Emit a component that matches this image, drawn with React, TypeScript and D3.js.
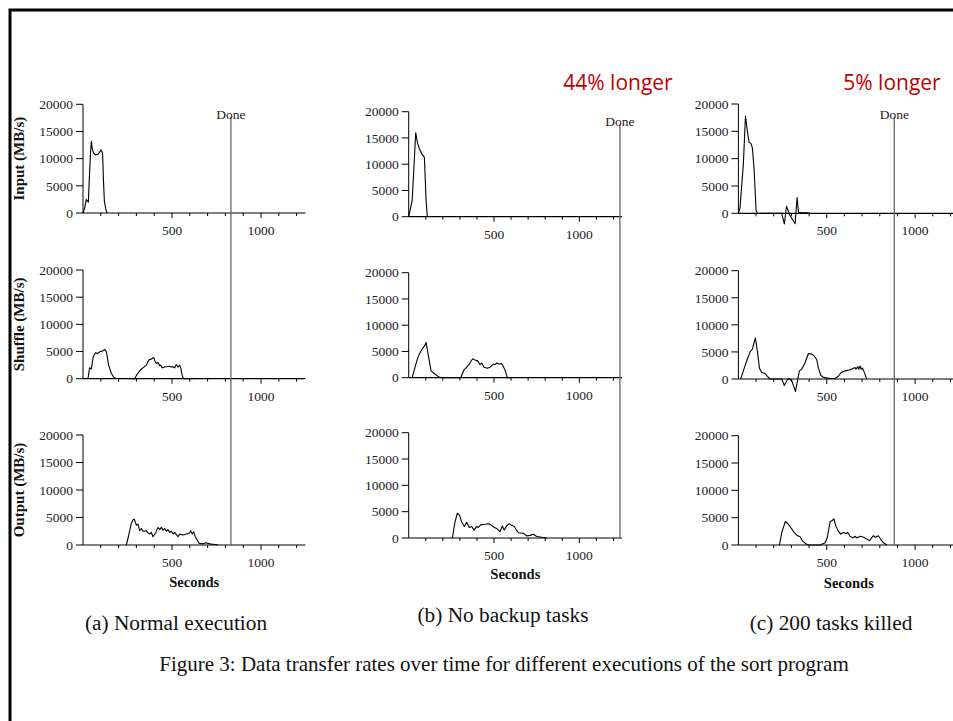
import React from "react";
import * as d3 from "d3";

type Pt = [number, number];

// ---- data (seconds, MB/s) ----
const normalInput: Pt[] = [[0,0],[10,1000],[18,2500],[25,2200],[30,2000],[35,6000],[42,11000],[47,13200],[52,11800],[60,11000],[70,10700],[85,10800],[95,11300],[102,11600],[110,11000],[115,6000],[120,2200],[128,700],[135,0]];
const normalShuffle: Pt[] = [[28,0],[37,2000],[47,1800],[56,3800],[65,4500],[72,4800],[79,4600],[97,5000],[110,5100],[122,5400],[131,5000],[144,2500],[159,1000],[170,400],[178,150],[187,50],[234,50],[290,0],[300,600],[309,1000],[322,1600],[337,2000],[356,2500],[371,3500],[384,3600],[397,3900],[405,3200],[412,2800],[420,3000],[431,2400],[436,2500],[446,2000],[458,2150],[468,2200],[487,2300],[496,2150],[506,2200],[515,2000],[524,2600],[534,2100],[543,2500],[549,2000],[558,500],[566,0],[674,50]];
const normalOutput: Pt[] = [[243,0],[255,1500],[270,3800],[281,4600],[288,4700],[300,3600],[309,3800],[318,2600],[328,3000],[337,2500],[356,2600],[365,2200],[375,2000],[384,2300],[393,1500],[408,2200],[421,3200],[431,2800],[440,3200],[449,2700],[459,3000],[468,2500],[477,2800],[487,2300],[496,2500],[506,2000],[515,2300],[534,1500],[543,2000],[562,1800],[581,2000],[600,2200],[605,2600],[614,2000],[622,2400],[631,1500],[640,1000],[652,300],[674,200],[689,400],[712,200],[730,150],[753,50],[760,0]];

const nobackupInput: Pt[] = [[0,0],[20,3000],[30,9000],[41,16000],[52,14000],[62,13000],[76,12000],[92,11300],[102,3000],[109,0]];
const nobackupShuffle: Pt[] = [[20,0],[37,2000],[50,3500],[62,4500],[82,5600],[95,6200],[102,6700],[111,5000],[131,1300],[150,800],[174,200],[193,0],[305,0],[324,1500],[340,2000],[355,2600],[375,3600],[393,3300],[403,3200],[418,2500],[428,2800],[441,2000],[461,1800],[477,2000],[496,2600],[505,2500],[516,2800],[530,2600],[545,2700],[564,1500],[578,0],[600,0]];
const nobackupOutput: Pt[] = [[256,0],[271,3000],[285,4700],[297,4400],[311,3000],[326,2200],[340,3000],[355,2000],[369,2200],[383,1500],[398,2200],[408,2000],[422,2500],[447,2600],[467,2700],[482,2500],[502,2000],[516,1800],[535,1200],[549,2300],[559,1500],[574,2300],[588,2700],[604,2400],[619,2200],[629,1600],[643,1000],[672,900],[691,400],[711,500],[730,700],[750,300],[770,200],[799,50],[809,0]];

const killedInput: Pt[] = [[0,0],[9,1000],[28,9000],[40,17800],[51,15000],[60,13000],[70,12800],[79,12000],[89,8000],[100,500],[108,0],[245,0],[260,-1950],[272,1300],[292,-400],[321,-1900],[332,2900],[340,200],[358,100],[387,100],[406,0]];
const killedShuffle: Pt[] = [[13,0],[28,1500],[43,3000],[66,5000],[79,5500],[96,7600],[108,5000],[119,2000],[132,1200],[151,1000],[164,500],[179,0],[245,0],[260,-1200],[274,-300],[285,100],[302,-300],[323,-2300],[345,1500],[358,1800],[377,3000],[396,4700],[415,4600],[428,4300],[443,3600],[453,2000],[466,700],[481,300],[519,100],[547,100],[566,500],[581,1200],[604,1500],[632,1700],[651,2000],[660,2100],[666,1800],[675,2300],[681,1800],[689,2400],[695,1800],[702,2000],[708,1600],[717,800],[726,0]];
const killedOutput: Pt[] = [[232,0],[247,2500],[266,4300],[283,3800],[296,3200],[315,2300],[330,1800],[349,1500],[364,700],[387,100],[396,0],[462,0],[491,400],[504,1500],[519,4300],[532,4500],[540,4800],[551,3500],[566,2500],[579,2000],[594,2300],[609,2100],[619,2300],[632,1600],[647,1300],[660,1600],[670,1300],[689,1600],[708,1400],[726,1100],[742,800],[764,1700],[775,1400],[792,1700],[806,1000],[821,400],[840,0]];

const doneTimes = [831, 1238, 882];
const yTicks = [0, 5000, 10000, 15000, 20000];
const xMajorTicks = [500, 1000];
const xMinorTicks = [100, 200, 300, 400, 600, 700, 800, 900, 1100, 1200];
const rowTitles = ["Input (MB/s)", "Shuffle (MB/s)", "Output (MB/s)"];
const captions = ["(a) Normal execution", "(b) No backup tasks", "(c) 200 tasks killed"];
const notes = ["", "44% longer", "5% longer"];
const series: Pt[][][] = [
  [normalInput, normalShuffle, normalOutput],
  [nobackupInput, nobackupShuffle, nobackupOutput],
  [killedInput, killedShuffle, killedOutput],
];

// ---- layout ----
const COLS = [
  { x0: 83, x1: 305.5, rows: [[104.3, 213], [270, 378.7], [435, 545]], doneTop: 117, doneLabelY: 119, secondsY: 587, capX: 176, capY: 630, noteX: 0 },
  { x0: 408.7, x1: 622, rows: [[111.7, 216.7], [272.7, 377.7], [432.7, 538]], doneTop: 124, doneLabelY: 126, secondsY: 579, capX: 503, capY: 622, noteX: 618 },
  { x0: 738.4, x1: 959.3, rows: [[104, 213.3], [270.7, 379], [435.7, 545]], doneTop: 117, doneLabelY: 119, secondsY: 588, capX: 831, capY: 630, noteX: 892 },
];

const SERIF = "'Liberation Serif', 'DejaVu Serif', serif";

function Panel({ col, row }: { col: number; row: number }) {
  const c = COLS[col];
  const [top, bottom] = c.rows[row];
  const x = d3.scaleLinear().domain([0, 1250]).range([c.x0, c.x1]);
  const y = d3.scaleLinear().domain([0, 20000]).range([bottom, top]);
  const line = d3.line<Pt>().x((d) => x(d[0])).y((d) => y(d[1])).curve(d3.curveLinear);
  const data = series[col][row];
  return (
    <g>
      <line x1={x(0)} x2={x(0)} y1={y(0)} y2={y(20000)} stroke="#000" strokeWidth={1} />
      <line x1={x(0)} x2={x(1250)} y1={y(0)} y2={y(0)} stroke="#000" strokeWidth={1.2} />
      {yTicks.map((t) => (
        <g key={"y" + t}>
          <line x1={x(0) - 7} x2={x(0)} y1={y(t)} y2={y(t)} stroke="#000" strokeWidth={1} />
          <text x={x(0) - 10} y={y(t)} dy="0.35em" textAnchor="end" fontFamily={SERIF} fontSize={13.5} fill="#222">
            {t}
          </text>
        </g>
      ))}
      {xMinorTicks.map((t) => (
        <line key={"m" + t} x1={x(t)} x2={x(t)} y1={y(0)} y2={y(0) + 3} stroke="#000" strokeWidth={1} />
      ))}
      {xMajorTicks.map((t) => (
        <g key={"x" + t}>
          <line x1={x(t)} x2={x(t)} y1={y(0)} y2={y(0) + 5} stroke="#000" strokeWidth={1} />
          <text x={x(t)} y={y(0) + 22} textAnchor="middle" fontFamily={SERIF} fontSize={13.5} fill="#222">
            {t}
          </text>
        </g>
      ))}
      <path d={line(data) || ""} fill="none" stroke="#000" strokeWidth={1.1} strokeLinejoin="round" />
      {col === 0 && (
        <text
          transform={`translate(24,${(top + bottom) / 2}) rotate(-90)`}
          textAnchor="middle"
          fontFamily={SERIF}
          fontWeight="bold"
          fontSize={15}
          fill="#111"
        >
          {rowTitles[row]}
        </text>
      )}
    </g>
  );
}

export default function App() {
  return (
    <svg width={953} height={721} style={{ position: "absolute", left: 0, top: 0, background: "#fff" }}>
      <rect x={0} y={0} width={953} height={721} fill="#fff" />
      <path d="M953,10 L10,10 L10,721" fill="none" stroke="#000" strokeWidth={3} />
      {COLS.map((c, ci) => {
        const x = d3.scaleLinear().domain([0, 1250]).range([c.x0, c.x1]);
        const dx = x(doneTimes[ci]);
        return (
          <g key={ci}>
            {[0, 1, 2].map((r) => (
              <Panel key={r} col={ci} row={r} />
            ))}
            <line x1={dx} x2={dx} y1={c.doneTop} y2={c.rows[2][1]} stroke="#666" strokeWidth={1.3} />
            <text x={dx} y={c.doneLabelY} textAnchor="middle" fontFamily={SERIF} fontSize={13.5} fill="#222">
              Done
            </text>
            <text x={(c.x0 + c.x1) / 2} y={c.secondsY} textAnchor="middle" fontFamily={SERIF} fontWeight="bold" fontSize={14.5} fill="#111">
              Seconds
            </text>
            <text x={c.capX} y={c.capY} textAnchor="middle" fontFamily={SERIF} fontSize={21.3} fill="#111">
              {captions[ci]}
            </text>
            {notes[ci] && (
              <text x={c.noteX} y={90} textAnchor="middle" fontFamily="'Open Sans', 'Noto Sans', sans-serif" fontSize={21} fill="#c00000">
                {notes[ci]}
              </text>
            )}
          </g>
        );
      })}
      <text x={504} y={671} textAnchor="middle" fontFamily={SERIF} fontSize={21} fill="#111">
        Figure 3: Data transfer rates over time for different executions of the sort program
      </text>
    </svg>
  );
}
